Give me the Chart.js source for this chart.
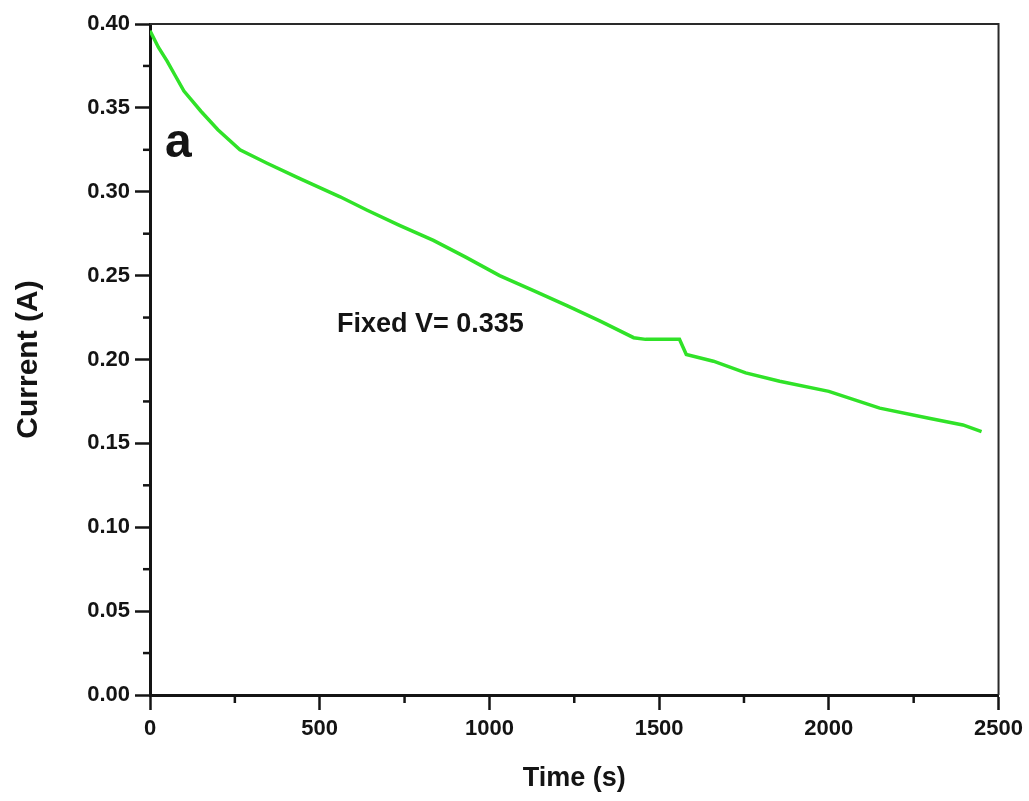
<!DOCTYPE html>
<html>
<head>
<meta charset="utf-8">
<title>Current vs Time</title>
<script src="https://cdn.jsdelivr.net/npm/chart.js@4/dist/chart.umd.min.js"></script>
<style>
  html, body { margin: 0; padding: 0; background: #fff; }
  #wrap { width: 1029px; height: 801px; }
</style>
</head>
<body>
<div id="wrap"><canvas id="chart"></canvas></div>
<script>
// time (s) and current (A)
const times = [0, 25, 50, 75, 100, 125, 150, 200, 265, 345, 440, 560, 640, 735,
  835, 930, 1030, 1130, 1230, 1325, 1425, 1460, 1560, 1580, 1660, 1755, 1855,
  2000, 2150, 2295, 2395, 2450];
const currents = [0.396, 0.386, 0.378, 0.369, 0.360, 0.354, 0.348, 0.337, 0.325,
  0.317, 0.308, 0.297, 0.289, 0.280, 0.271, 0.261, 0.250, 0.241, 0.232, 0.223,
  0.213, 0.212, 0.212, 0.203, 0.199, 0.192, 0.187, 0.181, 0.171, 0.165, 0.161,
  0.157];

// in-plot text labels, placed in data units
const notes = [
  { text: "a", x: 44, y: 0.3205, size: 48 },
  { text: "Fixed V= 0.335", x: 551, y: 0.2165, size: 27 },
];

const FONT = "'Liberation Sans', Arial, sans-serif";
const INK = "#141414";

// minor ticks halfway between the labelled ones, frame on top/right, notes
const extras = {
  id: "extras",
  afterDraw(chart) {
    const { ctx, chartArea: a, scales } = chart;
    ctx.save();
    ctx.strokeStyle = INK;
    ctx.lineWidth = 2.5;
    const xt = scales.x.ticks;
    for (let i = 0; i < xt.length - 1; i++) {
      const px = scales.x.getPixelForValue((xt[i].value + xt[i + 1].value) / 2);
      ctx.beginPath();
      ctx.moveTo(px, a.bottom);
      ctx.lineTo(px, a.bottom + 8);
      ctx.stroke();
    }
    const yt = scales.y.ticks;
    for (let i = 0; i < yt.length - 1; i++) {
      const py = scales.y.getPixelForValue((yt[i].value + yt[i + 1].value) / 2);
      ctx.beginPath();
      ctx.moveTo(a.left, py);
      ctx.lineTo(a.left - 7, py);
      ctx.stroke();
    }
    // top and right frame
    ctx.strokeStyle = "#2a2a2a";
    ctx.lineWidth = 2;
    ctx.beginPath();
    ctx.moveTo(a.left, a.top);
    ctx.lineTo(a.right, a.top);
    ctx.lineTo(a.right, a.bottom);
    ctx.stroke();

    ctx.fillStyle = INK;
    ctx.textBaseline = "alphabetic";
    ctx.textAlign = "left";
    notes.forEach((n) => {
      ctx.font = "bold " + n.size + "px " + FONT;
      ctx.fillText(n.text, scales.x.getPixelForValue(n.x), scales.y.getPixelForValue(n.y));
    });
    ctx.restore();
  },
};

const points = times.map((t, i) => ({ x: t, y: currents[i] }));

new Chart(document.getElementById("chart"), {
  type: "line",
  data: {
    datasets: [
      {
        data: points,
        borderColor: "rgb(48,226,40)",
        borderWidth: 3.5,
        pointRadius: 0,
        tension: 0,
      },
    ],
  },
  options: {
    responsive: true,
    maintainAspectRatio: false,
    animation: false,
    layout: { padding: { left: 0, right: 30, top: 24, bottom: 0 } },
    plugins: { legend: { display: false }, tooltip: { enabled: false } },
    scales: {
      x: {
        type: "linear",
        min: 0,
        max: 2500,
        afterFit: (s) => { s.height = 106; },
        border: { color: INK, width: 3 },
        grid: { drawOnChartArea: false, tickLength: 15, tickWidth: 2.5, tickColor: INK },
        ticks: {
          stepSize: 500,
          padding: 6,
          color: INK,
          font: { family: FONT, size: 22, weight: "bold" },
          callback: (v) => String(v),
        },
        title: {
          display: true,
          text: "Time (s)",
          color: INK,
          padding: { top: 0, bottom: 6 },
          font: { family: FONT, size: 27, weight: "bold" },
        },
      },
      y: {
        min: 0,
        max: 0.4,
        afterFit: (s) => { s.width = 150; },
        border: { color: INK, width: 3 },
        grid: { drawOnChartArea: false, tickLength: 15, tickWidth: 2.5, tickColor: INK },
        ticks: {
          stepSize: 0.05,
          padding: 5,
          color: INK,
          font: { family: FONT, size: 22, weight: "bold" },
          callback: (v) => v.toFixed(2),
        },
        title: {
          display: true,
          text: "Current (A)",
          color: INK,
          padding: { top: 11, bottom: 0 },
          font: { family: FONT, size: 30, weight: "bold" },
        },
      },
    },
  },
  plugins: [extras],
});
</script>
</body>
</html>
